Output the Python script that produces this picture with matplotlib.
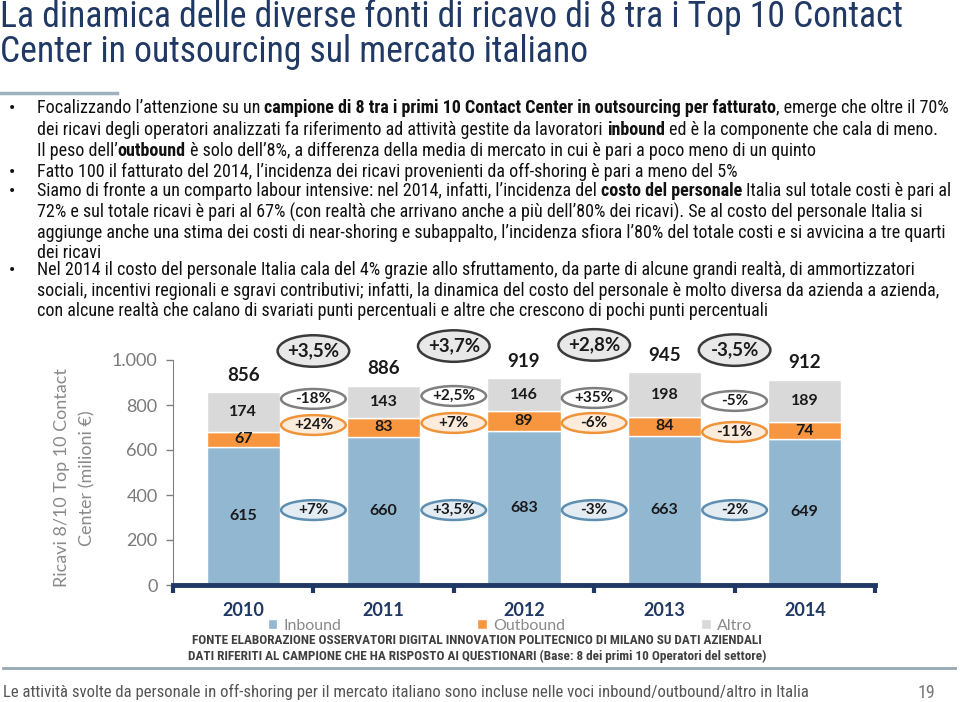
import matplotlib
matplotlib.use('Agg')
import matplotlib.pyplot as plt
from matplotlib.patches import Ellipse
from matplotlib.ticker import FuncFormatter
from matplotlib import font_manager as fm
import numpy as np

# dati (milioni di euro)
anni = ['2010', '2011', '2012', '2013', '2014']
inbound = [615, 660, 683, 663, 649]
outbound = [67, 83, 89, 84, 74]
altro = [174, 143, 146, 198, 189]
totali = [856, 886, 919, 945, 912]

# variazioni anno su anno
var_totale = ['+3,5%', '+3,7%', '+2,8%', '-3,5%']
var_altro = ['-18%', '+2,5%', '+35%', '-5%']
var_outbound = ['+24%', '+7%', '-6%', '-11%']
var_inbound = ['+7%', '+3,5%', '-3%', '-2%']


def pick(names):
    for n in names:
        try:
            fm.findfont(fm.FontProperties(family=n), fallback_to_default=False)
            return n
        except Exception:
            pass
    return 'DejaVu Sans'


NARROW = pick(['Liberation Sans Narrow', 'Roboto Condensed', 'Lato'])
CHART = pick(['Lato', 'Open Sans', 'DejaVu Sans'])

W, H = 960, 702
fig = plt.figure(figsize=(W / 100, H / 100), dpi=100)
fig.patch.set_facecolor('white')
renderer = fig.canvas.get_renderer()


def fx(px):
    return px / W


def fy(py):
    return 1 - py / H


# titolo
navy = '#203864'
fig.text(fx(0), fy(17), 'La dinamica delle diverse fonti di ricavo di 8 tra i Top 10 Contact',
         fontsize=25.7, family=[NARROW, 'DejaVu Sans'], color=navy, va='center')
fig.text(fx(0), fy(52), 'Center in outsourcing sul mercato italiano',
         fontsize=25.7, family=[NARROW, 'DejaVu Sans'], color=navy, va='center')
fig.add_artist(plt.Line2D([fx(0), fx(117)], [fy(93), fy(93)], color='#9DB1BE', lw=2.5))


def width_of(s, size, weight):
    t = fig.text(0, 0, s, fontsize=size, fontweight=weight, family=[NARROW, 'DejaVu Sans'])
    w = t.get_window_extent(renderer).width
    t.remove()
    return w


def rich_line(x, y, parts, size, color='#111111'):
    prev = None
    for txt, bold in parts:
        weight = 'bold' if bold else 'normal'
        if prev is not None and not prev.endswith('’') and txt[0] not in ',.;)':
            x += fx(width_of('x x', size, weight) - width_of('xx', size, weight))
        t = fig.text(x, y, txt, fontsize=size, fontweight=weight, color=color,
                     family=[NARROW, 'DejaVu Sans'], va='center')
        x += fx(t.get_window_extent(renderer).width)
        prev = txt


righe = [
    (True, [('Focalizzando l’attenzione su un', False),
            ('campione di 8 tra i primi 10 Contact Center in outsourcing per fatturato', True),
            (', emerge che oltre il 70%', False)]),
    (False, [('dei ricavi degli operatori analizzati fa riferimento ad attività gestite da lavoratori', False),
             ('inbound', True), ('ed è la componente che cala di meno.', False)]),
    (False, [('Il peso dell’', False), ('outbound', True),
             ('è solo dell’8%, a differenza della media di mercato in cui è pari a poco meno di un quinto', False)]),
    (True, [('Fatto 100 il fatturato del 2014, l’incidenza dei ricavi provenienti da off-shoring è pari a meno del 5%', False)]),
    (True, [('Siamo di fronte a un comparto labour intensive: nel 2014, infatti, l’incidenza del', False),
            ('costo del personale', True), ('Italia sul totale costi è pari al', False)]),
    (False, [('72% e sul totale ricavi è pari al 67% (con realtà che arrivano anche a più dell’80% dei ricavi). Se al costo del personale Italia si', False)]),
    (False, [('aggiunge anche una stima dei costi di near-shoring e subappalto, l’incidenza sfiora l’80% del totale costi e si avvicina a tre quarti', False)]),
    (False, [('dei ricavi', False)]),
    (True, [('Nel 2014 il costo del personale Italia cala del 4% grazie allo sfruttamento, da parte di alcune grandi realtà, di ammortizzatori', False)]),
    (False, [('sociali, incentivi regionali e sgravi contributivi; infatti, la dinamica del costo del personale è molto diversa da azienda a azienda,', False)]),
    (False, [('con alcune realtà che calano di svariati punti percentuali e altre che crescono di pochi punti percentuali', False)]),
]
righe_y = [108, 130, 151, 172, 191, 212, 233, 253, 270, 291, 311]

for (bullet, parts), py in zip(righe, righe_y):
    if bullet:
        fig.text(fx(8), fy(py), '•', fontsize=10, color='#111111', va='center')
    rich_line(fx(37), fy(py), parts, 13)

# grafico
c_in, c_out, c_alt = '#92B7D1', '#F7963F', '#D9D9D9'
ax = fig.add_axes([fx(173), 1 - 585 / H, fx(875 - 173), (585 - 360) / H])
x = np.arange(len(anni))
bw = 0.52
in_arr, out_arr, alt_arr = np.array(inbound), np.array(outbound), np.array(altro)
ax.bar(x, in_arr, bw, color=c_in, edgecolor='white', lw=1, label='Inbound', zorder=2)
ax.bar(x, out_arr, bw, bottom=in_arr, color=c_out, edgecolor='white', lw=1, label='Outbound', zorder=2)
ax.bar(x, alt_arr, bw, bottom=in_arr + out_arr, color=c_alt, edgecolor='white', lw=1, label='Altro', zorder=2)

lab = dict(family=CHART, fontweight='bold', color='#1a1a1a', ha='center', va='center')
for i in range(len(anni)):
    ax.text(x[i], in_arr[i] / 2, str(inbound[i]), fontsize=11.5, **lab)
    ax.text(x[i], in_arr[i] + out_arr[i] / 2, str(outbound[i]), fontsize=11.5, **lab)
    ax.text(x[i], in_arr[i] + out_arr[i] + alt_arr[i] / 2, str(altro[i]), fontsize=11.5, **lab)
    ax.annotate(str(totali[i]), (x[i], in_arr[i] + out_arr[i] + alt_arr[i]), xytext=(0, 6),
                textcoords='offset points', fontsize=13.5, annotation_clip=False,
                **{**lab, 'va': 'bottom'})

# ellissi con le variazioni
xm = x[:-1] + 0.5
gruppi = [
    (var_totale, [1040, 1062, 1067, 1044], '#E8E8E8', '#3a3a3a', 0.51, 140, 13.5),
    (var_altro, [827, 840, 831, 818], 'white', '#7F7F7F', 0.46, 88, 11),
    (var_outbound, [711, 720, 720, 680], '#FDEBDC', '#F0943A', 0.46, 88, 11),
    (var_inbound, [333, 333, 333, 333], '#E3ECF3', '#5E8FB1', 0.46, 88, 11),
]
for testi, ys, fc, ec, ew, eh, fs in gruppi:
    for xi, yi, t in zip(xm, ys, testi):
        ax.add_patch(Ellipse((xi, yi), ew, eh, facecolor=fc, edgecolor=ec, lw=1.8,
                             clip_on=False, zorder=3))
        ax.text(xi, yi, t, fontsize=fs, zorder=4, **lab)

ax.set_xlim(-0.5, 4.5)
ax.set_ylim(0, 1000)
ax.set_yticks(range(0, 1001, 200))
ax.yaxis.set_major_formatter(FuncFormatter(lambda v, p: f'{int(v):,}'.replace(',', '.')))
ax.tick_params(axis='y', colors='#808080', labelcolor='#7a7a7a', labelsize=13, length=5, width=1, pad=6)
for lbl in ax.get_yticklabels():
    lbl.set_family(CHART)
ax.set_xticks(x)
ax.set_xticklabels(anni, fontsize=13, fontweight='bold', color=navy, family=CHART)
ax.tick_params(axis='x', length=0, pad=12)
ax.set_xticks(np.arange(-0.5, 4.6, 1.0), minor=True)
ax.tick_params(axis='x', which='minor', length=6, width=3, color=navy)
for s in ['top', 'right']:
    ax.spines[s].set_visible(False)
ax.spines['left'].set_color('#808080')
ax.spines['bottom'].set_color(navy)
ax.spines['bottom'].set_linewidth(3.5)
ax.spines['bottom'].set_zorder(5)

fig.text(fx(62), fy(478), 'Ricavi 8/10 Top 10 Contact', rotation=90, fontsize=13,
         family=CHART, color='#8a8a8a', ha='center', va='center')
fig.text(fx(87), fy(478), 'Center (milioni €)', rotation=90, fontsize=13,
         family=CHART, color='#8a8a8a', ha='center', va='center')

h, l = ax.get_legend_handles_labels()
leg = fig.legend(h, l, loc='center', bbox_to_anchor=(fx(510), fy(626)), ncol=3, frameon=False,
                 handlelength=0.6, handleheight=0.6, handletextpad=0.4,
                 columnspacing=8.5, prop={'family': CHART, 'size': 11.5})
for t in leg.get_texts():
    t.set_color('#8a8a8a')

# fonte
fig.text(fx(477), fy(641), 'FONTE ELABORAZIONE OSSERVATORI DIGITAL INNOVATION POLITECNICO DI MILANO SU DATI AZIENDALI',
         fontsize=9.5, fontweight='bold', family=[NARROW, 'DejaVu Sans'], color='#404040', ha='center', va='center')
fig.text(fx(477), fy(656), 'DATI RIFERITI AL CAMPIONE CHE HA RISPOSTO AI QUESTIONARI (Base: 8 dei primi 10 Operatori del settore)',
         fontsize=9.5, fontweight='bold', family=[NARROW, 'DejaVu Sans'], color='#404040', ha='center', va='center')
fig.add_artist(plt.Line2D([fx(3), fx(955)], [fy(668), fy(668)], color='#96A8B3', lw=2))

fig.text(fx(3), fy(692), 'Le attività svolte da personale in off-shoring per il mercato italiano sono incluse nelle voci inbound/outbound/altro in Italia',
         fontsize=12.1, family=[NARROW, 'DejaVu Sans'], color='#555555', va='center')
fig.text(fx(918), fy(693), '19', fontsize=13, family=[NARROW, 'DejaVu Sans'], color='#777777', va='center')

fig.savefig('out.png', dpi=100)
